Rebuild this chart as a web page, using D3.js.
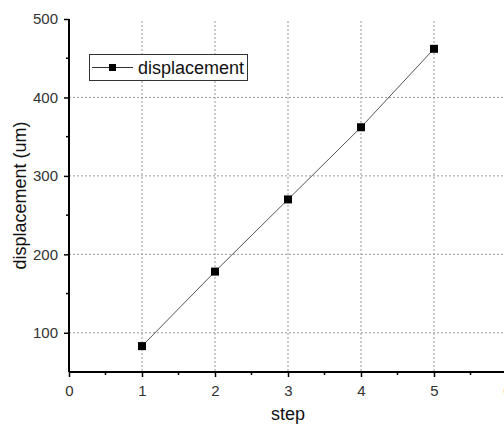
<!DOCTYPE html>
<html><head><meta charset="utf-8">
<script src="https://cdn.jsdelivr.net/npm/d3@7"></script>
<style>body{margin:0;background:#fff;overflow:hidden}svg{display:block}text{font-family:Arial,"Liberation Sans",sans-serif}</style>
</head><body>
<script>
const steps = [1, 2, 3, 4, 5];
const displacement = [83, 178, 270, 362, 462];
const xTicks = [0, 1, 2, 3, 4, 5, 6];
const yTicks = [100, 200, 300, 400, 500];
const seriesName = "displacement";

const W = 504, H = 425;
const svg = d3.select("body").append("svg").attr("width", W).attr("height", H);
const x = d3.scaleLinear().domain([0, 6]).range([69, 507]);
const y = d3.scaleLinear().domain([50, 500]).range([372, 19]);

// grid
const g = svg.append("g");
g.selectAll("line.vg").data([1,2,3,4,5]).join("line")
  .attr("x1", d => x(d)).attr("x2", d => x(d)).attr("y1", y(500) + 2).attr("y2", y(50))
  .attr("stroke", "#999").attr("stroke-dasharray", "2,2").attr("stroke-width", 1);
g.selectAll("line.hg").data([100,200,300,400]).join("line")
  .attr("x1", x(0)).attr("x2", W).attr("y1", d => y(d)).attr("y2", d => y(d))
  .attr("stroke", "#999").attr("stroke-dasharray", "2,2").attr("stroke-width", 1);

// axes
const xAxis = svg.append("g").attr("transform", `translate(0,${y(50)})`)
  .call(d3.axisBottom(x).tickValues(xTicks).tickFormat(d3.format("d")).tickSize(5).tickSizeOuter(0));
const yAxis = svg.append("g").attr("transform", `translate(${x(0)},0)`)
  .call(d3.axisLeft(y).tickValues(yTicks).tickFormat(d3.format("d")).tickSize(5).tickSizeOuter(0));
[xAxis, yAxis].forEach(a => {
  a.select(".domain").attr("stroke", "#000").attr("stroke-width", 2);
  a.selectAll(".tick line").attr("stroke", "#000").attr("stroke-width", 1.5);
  a.selectAll(".tick text").attr("font-size", 15).attr("fill", "#333")
    .attr("font-family", "Arial, 'Liberation Sans', sans-serif");
});
xAxis.selectAll(".tick text").attr("dy", "1.05em");
yAxis.selectAll(".tick text").attr("x", -11);
xAxis.selectAll(".domain").attr("d", `M${x(0)},0H${W}`);
yAxis.selectAll(".domain").attr("d", `M0,${y(500)}V${y(50)}`);
// minor ticks
svg.append("g").selectAll("line").data([0.5,1.5,2.5,3.5,4.5,5.5]).join("line")
  .attr("x1", d => x(d)).attr("x2", d => x(d)).attr("y1", y(50)).attr("y2", y(50)+3)
  .attr("stroke", "#000").attr("stroke-width", 1.5);
svg.append("g").selectAll("line").data([150,250,350,450]).join("line")
  .attr("x1", x(0)-3).attr("x2", x(0)).attr("y1", d => y(d)).attr("y2", d => y(d))
  .attr("stroke", "#000").attr("stroke-width", 1.5);

// series
const pts = steps.map((s, i) => [s, displacement[i]]);
svg.append("path").datum(pts)
  .attr("d", d3.line().x(d => x(d[0])).y(d => y(d[1])))
  .attr("fill", "none").attr("stroke", "#555").attr("stroke-width", 1);
svg.append("g").selectAll("rect").data(pts).join("rect")
  .attr("x", d => x(d[0]) - 4).attr("y", d => y(d[1]) - 4)
  .attr("width", 8).attr("height", 8).attr("fill", "#000");

// legend
const lg = svg.append("g");
lg.append("rect").attr("x", 89.5).attr("y", 54.5).attr("width", 158).attr("height", 26)
  .attr("fill", "#fff").attr("stroke", "#333").attr("stroke-width", 1);
lg.append("line").attr("x1", 92).attr("x2", 133).attr("y1", 67.5).attr("y2", 67.5)
  .attr("stroke", "#333").attr("stroke-width", 1);
lg.append("rect").attr("x", 109).attr("y", 64).attr("width", 7).attr("height", 7).attr("fill", "#000");
lg.append("text").attr("x", 138).attr("y", 74).attr("font-size", 18).attr("fill", "#111").text(seriesName);

// titles
svg.append("text").attr("x", x(3)).attr("y", 420).attr("text-anchor", "middle")
  .attr("font-size", 18).attr("fill", "#111").text("step");
svg.append("text").attr("transform", `translate(26,${(y(500)+y(50))/2}) rotate(-90)`)
  .attr("text-anchor", "middle").attr("font-size", 18).attr("fill", "#111").text("displacement (um)");
</script>
</body></html>
